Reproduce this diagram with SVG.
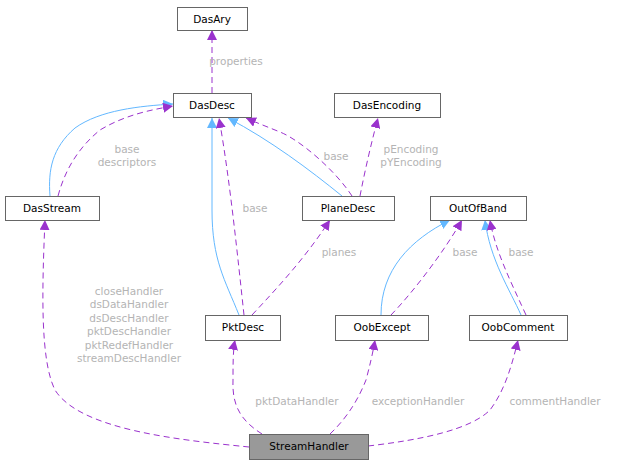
<svg xmlns="http://www.w3.org/2000/svg" width="618" height="465" viewBox="0 0 618 465">
<style>
.n rect{fill:#fff;stroke:#666;stroke-width:1}
.n text{font-family:"DejaVu Sans",sans-serif;font-size:10.5px;fill:#000;text-anchor:middle}
.i{fill:none;stroke:#63b8ff;stroke-width:1}
.u{fill:none;stroke:#9a32cd;stroke-width:1;stroke-dasharray:6,4}
.l{font-family:"DejaVu Sans",sans-serif;font-size:10.5px;fill:#b4b4b4;text-anchor:middle}
</style>
<defs>
<marker id="ab" viewBox="0 0 10 10" refX="10" refY="5" markerWidth="10" markerHeight="10" markerUnits="userSpaceOnUse" orient="auto"><path d="M0,0L10,5L0,10z" fill="#63b8ff"/></marker>
<marker id="ap" viewBox="0 0 10 10" refX="10" refY="5" markerWidth="10" markerHeight="10" markerUnits="userSpaceOnUse" orient="auto"><path d="M0,0L10,5L0,10z" fill="#9a32cd"/></marker>
</defs>
<g id="edges">
<path class="i" marker-end="url(#ab)" d="M50,196C48,170 52,148 75,128C100,110 140,106 173,104"/>
<path class="u" marker-end="url(#ap)" d="M58,196C65,170 78,148 100,130C125,115 150,110 173,106"/>
<path class="u" marker-end="url(#ap)" d="M212,93L212,30"/>
<path class="i" marker-end="url(#ab)" d="M239,315C225,280 212,260 212,210L212,118"/>
<path class="u" marker-end="url(#ap)" d="M244,315C238,260 230,180 219,118"/>
<path class="i" marker-end="url(#ab)" d="M342,196C310,170 270,140 228,118"/>
<path class="u" marker-end="url(#ap)" d="M352,196C335,170 300,140 280,132C265,126 255,122 246,118"/>
<path class="u" marker-end="url(#ap)" d="M360,196C365,170 372,140 378,118"/>
<path class="u" marker-end="url(#ap)" d="M252,315C280,285 305,258 330,220"/>
<path class="i" marker-end="url(#ab)" d="M381,315C381,270 410,240 450,220"/>
<path class="u" marker-end="url(#ap)" d="M391,315C415,290 445,250 462,220"/>
<path class="i" marker-end="url(#ab)" d="M521,315C510,290 490,260 485,220"/>
<path class="u" marker-end="url(#ap)" d="M526,315C510,280 495,250 490,220"/>
<path class="u" marker-end="url(#ap)" d="M249,447C180,440 80,430 55,390C40,360 42,290 45,220"/>
<path class="u" marker-end="url(#ap)" d="M262,434C240,420 232,405 233,380C233,365 233,350 235,340"/>
<path class="u" marker-end="url(#ap)" d="M330,434C350,415 360,395 366,380C370,365 373,352 375,340"/>
<path class="u" marker-end="url(#ap)" d="M368,446C420,440 470,430 490,410C505,390 512,365 518,340"/>
<text class="l" x="236" y="65">properties</text>
<text class="l" x="127" y="153">base</text>
<text class="l" x="127" y="166">descriptors</text>
<text class="l" x="255" y="212">base</text>
<text class="l" x="336" y="160">base</text>
<text class="l" x="411" y="153">pEncoding</text>
<text class="l" x="411" y="166">pYEncoding</text>
<text class="l" x="339" y="256">planes</text>
<text class="l" x="465" y="256">base</text>
<text class="l" x="521" y="256">base</text>
<text class="l" x="129" y="295">closeHandler</text>
<text class="l" x="129" y="308">dsDataHandler</text>
<text class="l" x="129" y="322">dsDescHandler</text>
<text class="l" x="129" y="335">pktDescHandler</text>
<text class="l" x="129" y="349">pktRedefHandler</text>
<text class="l" x="129" y="362">streamDescHandler</text>
<text class="l" x="297" y="405">pktDataHandler</text>
<text class="l" x="418" y="405">exceptionHandler</text>
<text class="l" x="555" y="405">commentHandler</text>
</g>
<g id="DasAry" class="n"><rect x="177.5" y="7.5" width="70" height="23"/><text x="212" y="23">DasAry</text></g>
<g id="DasDesc" class="n"><rect x="173.5" y="93.5" width="78" height="24"/><text x="212" y="109">DasDesc</text></g>
<g id="DasEncoding" class="n"><rect x="334.5" y="93.5" width="106" height="24"/><text x="387" y="109">DasEncoding</text></g>
<g id="DasStream" class="n"><rect x="5.5" y="196.5" width="94" height="24"/><text x="52" y="212">DasStream</text></g>
<g id="PlaneDesc" class="n"><rect x="302.5" y="196.5" width="92" height="24"/><text x="348" y="212">PlaneDesc</text></g>
<g id="OutOfBand" class="n"><rect x="430.5" y="196.5" width="96" height="24"/><text x="478" y="212">OutOfBand</text></g>
<g id="PktDesc" class="n"><rect x="205.5" y="315.5" width="75" height="25"/><text x="243" y="331">PktDesc</text></g>
<g id="OobExcept" class="n"><rect x="335.5" y="315.5" width="93" height="25"/><text x="382" y="331">OobExcept</text></g>
<g id="OobComment" class="n"><rect x="469.5" y="315.5" width="98" height="25"/><text x="518" y="331">OobComment</text></g>
<g id="StreamHandler" class="n"><rect x="249.5" y="434.5" width="119" height="25" style="fill:#999"/><text x="309" y="450">StreamHandler</text></g>
</svg>
